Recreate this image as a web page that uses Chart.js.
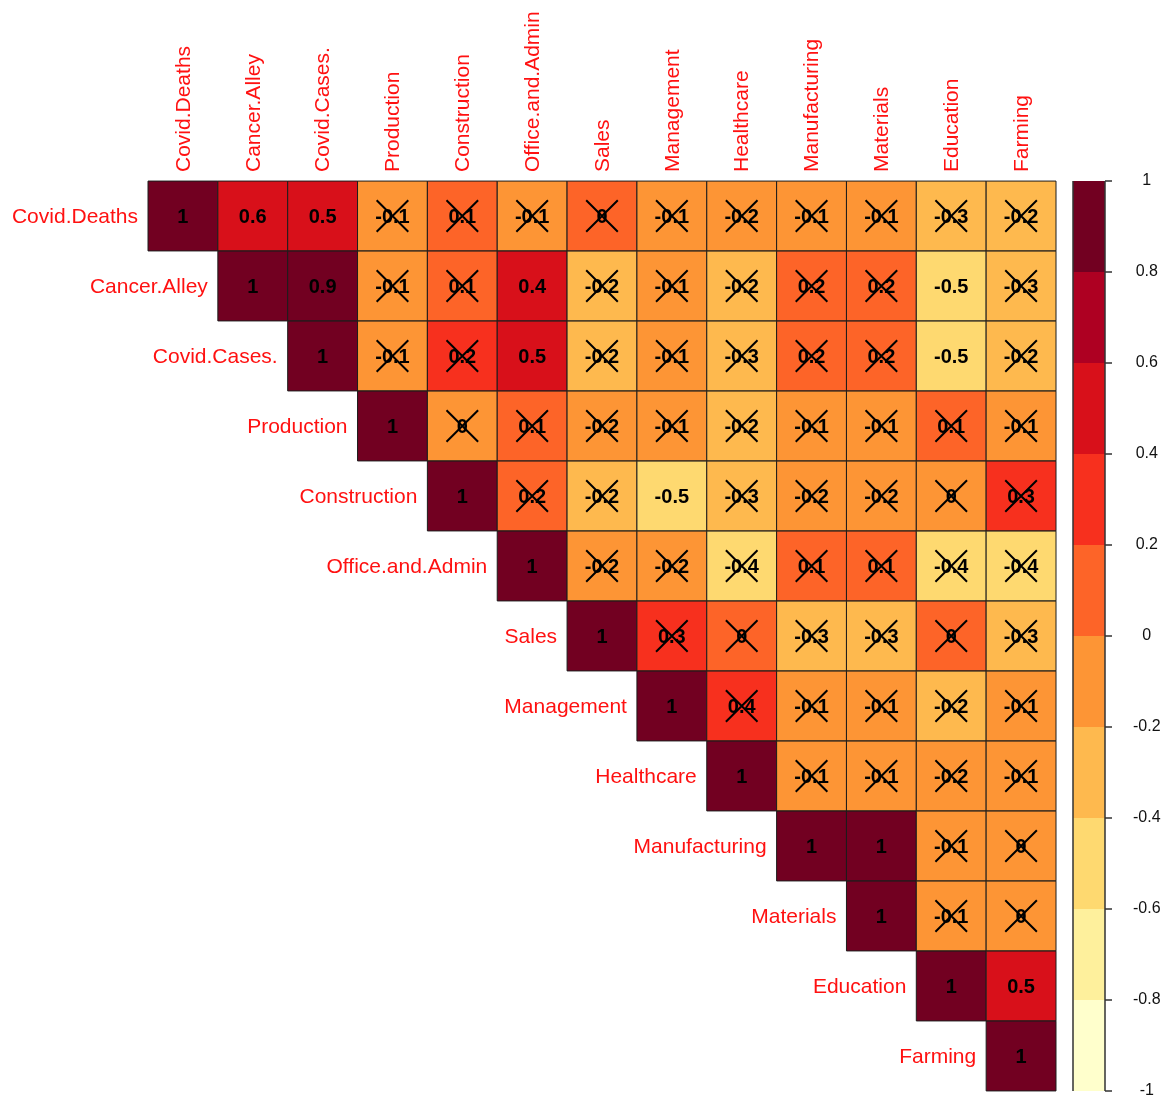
<!DOCTYPE html>
<html>
<head>
<meta charset="utf-8">
<script src="https://cdn.jsdelivr.net/npm/chart.js@4.4.0/dist/chart.umd.min.js"></script>
<style>
  html, body { margin: 0; padding: 0; background: #ffffff; }
  #wrap { width: 1164px; height: 1097px; position: relative; }
</style>
</head>
<body>
<div id="wrap"><canvas id="corr"></canvas></div>
<script>
// Variables, in plot order
const variables = [
  'Covid.Deaths', 'Cancer.Alley', 'Covid.Cases.', 'Production', 'Construction',
  'Office.and.Admin', 'Sales', 'Management', 'Healthcare', 'Manufacturing',
  'Materials', 'Education', 'Farming'
];

// Upper triangle of the correlation matrix: row i holds columns i..12
const corrRow0  = [1, 0.57, 0.52, -0.08, 0.07, -0.10, 0.03, -0.09, -0.17, -0.10, -0.08, -0.27, -0.22];
const corrRow1  = [1, 0.90, -0.10, 0.06, 0.43, -0.23, -0.11, -0.21, 0.17, 0.16, -0.48, -0.28];
const corrRow2  = [1, -0.10, 0.22, 0.48, -0.22, -0.09, -0.26, 0.18, 0.17, -0.46, -0.23];
const corrRow3  = [1, -0.02, 0.10, -0.16, -0.10, -0.21, -0.10, -0.09, 0.08, -0.11];
const corrRow4  = [1, 0.16, -0.21, -0.47, -0.27, -0.17, -0.16, -0.03, 0.29];
const corrRow5  = [1, -0.17, -0.18, -0.41, 0.09, 0.08, -0.42, -0.43];
const corrRow6  = [1, 0.27, 0.04, -0.26, -0.27, 0.02, -0.29];
const corrRow7  = [1, 0.36, -0.10, -0.09, -0.21, -0.12];
const corrRow8  = [1, -0.07, -0.08, -0.18, -0.10];
const corrRow9  = [1, 0.98, -0.09, -0.02];
const corrRow10 = [1, -0.10, -0.03];
const corrRow11 = [1, 0.53];
const corrRow12 = [1];
const corrUpper = [corrRow0, corrRow1, corrRow2, corrRow3, corrRow4, corrRow5, corrRow6,
                   corrRow7, corrRow8, corrRow9, corrRow10, corrRow11, corrRow12];

// Off-diagonal pairs [row, col] that pass the significance test (all others get a cross)
const significantPairs = [[0, 1], [0, 2], [1, 2], [1, 5], [1, 11], [2, 5], [2, 11], [4, 7], [9, 10], [11, 12]];

// Colour key: 10 equal bins from -1 to 1
const colorBreaks = [-1, -0.8, -0.6, -0.4, -0.2, 0, 0.2, 0.4, 0.6, 0.8, 1];
const binColors = ['#FFFFCC', '#FEF09C', '#FED970', '#FEB94E', '#FD9535',
                   '#FD6428', '#F7301E', '#D8101A', '#AE0022', '#720021'];
const keyTicks = [1, 0.8, 0.6, 0.4, 0.2, 0, -0.2, -0.4, -0.6, -0.8, -1];

const FONT = '"Liberation Sans", Arial, Helvetica, sans-serif';
const LABEL_RED = '#FF1111';

function colorFor(v) {
  for (let k = 0; k < binColors.length; k++) {
    if (v < colorBreaks[k + 1]) return binColors[k];
  }
  return binColors[binColors.length - 1];
}
function fmt1(v) {
  let r = Math.round(v * 10) / 10;
  if (r === 0) r = 0;
  return String(r);
}
function isSignificant(i, j) {
  return i === j || significantPairs.some(p => p[0] === i && p[1] === j);
}

const cellPoints = [];
const crossPoints = [];
corrUpper.forEach((row, i) => {
  row.forEach((v, k) => {
    const j = i + k;
    cellPoints.push({ x: j, y: i, v: v });
    if (!isSignificant(i, j)) crossPoints.push({ x: j, y: i, v: v });
  });
});

function cellSide(chart) {
  const xs = chart.scales.x;
  return Math.abs(xs.getPixelForValue(1) - xs.getPixelForValue(0));
}

// Numbers in the cells (drawn right after the cells, under the crosses),
// variable names, and the colour key
const corrDecor = {
  id: 'corrDecor',
  afterDatasetDraw(chart, args) {
    if (args.index !== 0) return;
    const ctx = chart.ctx;
    const xs = chart.scales.x, ys = chart.scales.y;
    ctx.save();
    ctx.fillStyle = '#000000';
    ctx.font = 'bold 20px ' + FONT;
    ctx.textAlign = 'center';
    ctx.textBaseline = 'middle';
    cellPoints.forEach(p => {
      ctx.fillText(fmt1(p.v), xs.getPixelForValue(p.x), ys.getPixelForValue(p.y) + 1);
    });
    ctx.restore();
  },
  afterDraw(chart) {
    const ctx = chart.ctx;
    const xs = chart.scales.x, ys = chart.scales.y, cb = chart.scales.cb;
    const area = chart.chartArea;
    ctx.save();
    ctx.fillStyle = LABEL_RED;
    ctx.font = '21px ' + FONT;
    // row names, left of each diagonal cell
    ctx.textAlign = 'right';
    ctx.textBaseline = 'middle';
    variables.forEach((name, i) => {
      ctx.fillText(name, xs.getPixelForValue(i - 0.5) - 10, ys.getPixelForValue(i) + 1);
    });
    // column names, vertical above the grid
    ctx.textAlign = 'left';
    variables.forEach((name, j) => {
      ctx.save();
      ctx.translate(xs.getPixelForValue(j) + 1, area.top - 9);
      ctx.rotate(-Math.PI / 2);
      ctx.fillText(name, 0, 0);
      ctx.restore();
    });
    // colour key
    const x0 = area.right + 17, x1 = area.right + 49;
    for (let k = 0; k < binColors.length; k++) {
      const yTop = cb.getPixelForValue(colorBreaks[k + 1]);
      const yBot = cb.getPixelForValue(colorBreaks[k]);
      ctx.fillStyle = binColors[k];
      ctx.fillRect(x0, yTop, x1 - x0, yBot - yTop);
    }
    ctx.strokeStyle = '#333333';
    ctx.lineWidth = 1.5;
    ctx.beginPath();
    ctx.moveTo(x0, cb.getPixelForValue(1));
    ctx.lineTo(x0, cb.getPixelForValue(-1));
    ctx.moveTo(x1, cb.getPixelForValue(1));
    ctx.lineTo(x1, cb.getPixelForValue(-1));
    keyTicks.forEach(t => {
      const y = cb.getPixelForValue(t);
      ctx.moveTo(x1, y);
      ctx.lineTo(x1 + 7, y);
    });
    ctx.stroke();
    ctx.restore();
  }
};

new Chart(document.getElementById('corr'), {
  type: 'scatter',
  data: {
    datasets: [
      {
        label: 'correlation',
        data: cellPoints,
        order: 2,
        clip: false,
        pointStyle: 'rect',
        pointRadius: c => cellSide(c.chart) / Math.SQRT2,
        pointBackgroundColor: c => colorFor(c.raw.v),
        pointBorderColor: '#1c1c1c',
        pointBorderWidth: 1
      },
      {
        label: 'not significant',
        data: crossPoints,
        order: 1,
        clip: false,
        pointStyle: 'crossRot',
        pointRadius: c => cellSide(c.chart) * 0.32,
        pointBackgroundColor: 'rgba(0,0,0,0)',
        pointBorderColor: '#000000',
        pointBorderWidth: 2
      }
    ]
  },
  options: {
    responsive: true,
    maintainAspectRatio: false,
    animation: false,
    events: [],
    layout: { padding: { left: 148, top: 181, right: 0, bottom: 6 } },
    plugins: { legend: { display: false }, tooltip: { enabled: false } },
    scales: {
      x: { type: 'linear', min: -0.5, max: 12.5, display: false },
      y: { type: 'linear', min: -0.5, max: 12.5, reverse: true, display: false },
      cb: {
        type: 'linear',
        position: 'right',
        min: -1,
        max: 1,
        afterBuildTicks: s => { s.ticks = keyTicks.map(v => ({ value: v })); },
        afterFit: s => {
          s.width = 108;
          s.paddingTop = 0;
          s.paddingBottom = 0;
        },
        grid: { display: false, drawTicks: false },
        border: { display: false },
        ticks: {
          padding: 77,
          crossAlign: 'center',
          color: '#111111',
          font: { family: FONT, size: 16 },
          callback: v => fmt1(v)
        }
      }
    }
  },
  plugins: [corrDecor]
});
</script>
</body>
</html>
